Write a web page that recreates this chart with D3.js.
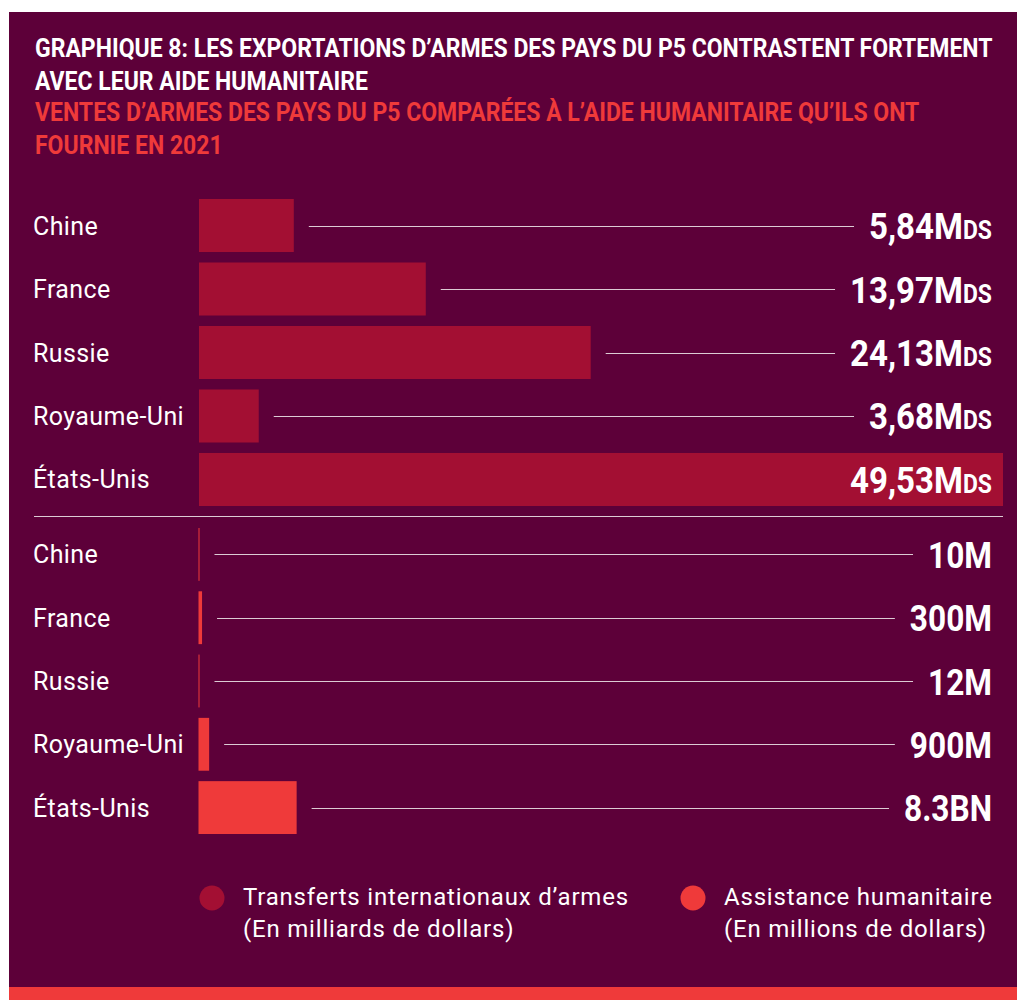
<!DOCTYPE html>
<html>
<head>
<meta charset="utf-8">
<script src="https://cdn.jsdelivr.net/npm/d3@7"></script>
<style>
  body { margin: 0; background: #fff; }
  svg { display: block; }
  text { font-family: Roboto, "Noto Sans", sans-serif; }
</style>
</head>
<body>
<svg id="chart"></svg>
<script>
// data
var countries = ["Chine", "France", "Russie", "Royaume-Uni", "États-Unis"];
var armsValues = [5.84, 13.97, 24.13, 3.68, 49.53];          // milliards de dollars
var aidValues = [10, 300, 12, 900, 8300];                     // millions de dollars
var aidLabels = ["10M", "300M", "12M", "900M", "8.3BN"];
var titleLines = [
  "GRAPHIQUE 8: LES EXPORTATIONS D\u2019ARMES DES PAYS DU P5 CONTRASTENT FORTEMENT",
  "AVEC LEUR AIDE HUMANITAIRE"
];
var subtitleLines = [
  "VENTES D\u2019ARMES DES PAYS DU P5 COMPARÉES À L\u2019AIDE HUMANITAIRE QU\u2019ILS ONT",
  "FOURNIE EN 2021"
];
var legendItems = [
  ["Transferts internationaux d\u2019armes", "(En milliards de dollars)"],
  ["Assistance humanitaire", "(En millions de dollars)"]
];

var W = 1017, H = 1000;
var bg = "#5d0039", armsColor = "#a30f33", aidColor = "#ef3a3a", lineColor = "#dccbd4";

var svg = d3.select("#chart").attr("width", W).attr("height", H);

// panel
svg.append("rect").attr("x", 9).attr("y", 12).attr("width", W - 9).attr("height", H - 12).attr("fill", bg);
svg.append("rect").attr("x", 9).attr("y", 987).attr("width", W - 9).attr("height", 13).attr("fill", aidColor);

// titles (condensed by horizontal scale)
var titleG = svg.append("g");
var tLines = titleLines.map(function(t, i) { return { t: t, fill: "#fff", y: 57 + i * 33 }; })
  .concat(subtitleLines.map(function(t, i) { return { t: t, fill: aidColor, y: 121 + i * 33 }; }));
var titleTexts = titleG.selectAll("g.tl").data(tLines).enter().append("g").attr("class", "tl");
titleTexts.append("text")
  .attr("font-size", 25).attr("font-weight", 700)
  .attr("fill", function(d) { return d.fill; })
  .text(function(d) { return d.t; });
var kTitle = 958 / titleTexts.select("text").node().getComputedTextLength();
titleTexts.attr("transform", function(d) { return "translate(35," + d.y + ") scale(" + kTitle + ",1)"; });

// scales
var x0 = 199, xEnd = 1003, labelRight = 992;
var xArms = d3.scaleLinear().domain([0, d3.max(armsValues)]).range([0, xEnd - x0]);
var xAid = d3.scaleLinear().domain([0, 68000]).range([0, xEnd - x0]);
var yArms = d3.scaleBand().domain(countries).range([199, 506]).paddingInner(0.165);
var yAid = d3.scaleBand().domain(countries).range([528, 834]).paddingInner(0.165);

var armsData = countries.map(function(c, i) { return { c: c, v: armsValues[i], i: i }; });
var aidData = countries.map(function(c, i) { return { c: c, v: aidValues[i], label: aidLabels[i], i: i }; });

var fmtArms = function(v) { return d3.format(".2f")(v).replace(".", ","); };

function drawSection(data, x, y, color, barX, labelFn) {
  var g = svg.append("g");
  var rows = g.selectAll("g.row").data(data).enter().append("g").attr("class", "row");

  rows.append("text")
    .attr("x", 33)
    .attr("y", function(d) { return y(d.c) + y.bandwidth() / 2 + 9; })
    .attr("font-size", 25).attr("fill", "#fff").attr("letter-spacing", 0.4)
    .text(function(d) { return d.c; });

  rows.append("rect")
    .attr("x", barX)
    .attr("y", function(d) { return y(d.c); })
    .attr("height", y.bandwidth())
    .attr("width", function(d) { return Math.max(1, x(d.v)); })
    .attr("fill", color);

  var labels = rows.append("g").attr("class", "val");
  labelFn(labels);

  return { rows: rows, labels: labels };
}

function armsLabel(sel) {
  var t = sel.append("text").attr("text-anchor", "end").attr("font-weight", 700).attr("fill", "#fff");
  t.append("tspan").attr("font-size", 36).text(function(d) { return fmtArms(d.v); });
  t.append("tspan").attr("font-size", 36).text("M");
  t.append("tspan").attr("font-size", 25).text("DS");
}
function aidLabel(sel) {
  sel.append("text").attr("text-anchor", "end").attr("font-weight", 700).attr("fill", "#fff")
    .attr("font-size", 36).text(function(d) { return d.label; });
}

var s1 = drawSection(armsData, xArms, yArms, armsColor, x0, armsLabel);
var s2 = drawSection(aidData, xAid, yAid, aidColor, x0 - 0.5, aidLabel);

// condensing factor for value labels, from the widest label
var usText = s1.labels.filter(function(d) { return d.i === 4; }).select("text").node();
var kVal = 142 / usText.getComputedTextLength();
var bnText = s2.labels.filter(function(d) { return d.i === 4; }).select("text").node();
var kAid = 88 / bnText.getComputedTextLength();

function placeLabels(sec, x, y, barX, k, skipLast) {
  sec.labels.attr("transform", function(d) {
    return "translate(" + labelRight + "," + (y(d.c) + y.bandwidth() / 2 + 13.5) + ") scale(" + k + ",1)";
  });
  sec.rows.each(function(d) {
    if (skipLast && d.i === 4) return;
    var w = d3.select(this).select("g.val text").node().getComputedTextLength() * k;
    var cy = Math.round(y(d.c) + y.bandwidth() / 2) + 0.5;
    d3.select(this).append("line")
      .attr("x1", barX + Math.max(1, x(d.v)) + 15)
      .attr("x2", labelRight - w - 15)
      .attr("y1", cy).attr("y2", cy)
      .attr("stroke", lineColor).attr("stroke-width", 1);
  });
}
placeLabels(s1, xArms, yArms, x0, kVal, true);
placeLabels(s2, xAid, yAid, x0 - 0.5, kAid, false);

// separator
svg.append("line").attr("x1", 34).attr("x2", xEnd).attr("y1", 516.5).attr("y2", 516.5)
  .attr("stroke", lineColor).attr("stroke-width", 1);

// legend
var legendX = [212, 693], legendColors = [armsColor, aidColor];
var leg = svg.selectAll("g.legend").data(legendItems).enter().append("g").attr("class", "legend");
leg.append("circle")
  .attr("cx", function(d, i) { return legendX[i]; }).attr("cy", 898).attr("r", 12.5)
  .attr("fill", function(d, i) { return legendColors[i]; });
leg.each(function(d, i) {
  d3.select(this).selectAll("text.lt").data(d).enter().append("text").attr("class", "lt")
    .attr("x", legendX[i] + 31)
    .attr("y", function(t, j) { return 905 + j * 32; })
    .attr("font-size", 24).attr("fill", "#fff").attr("letter-spacing", 0.8)
    .text(function(t) { return t; });
});
</script>
</body>
</html>
